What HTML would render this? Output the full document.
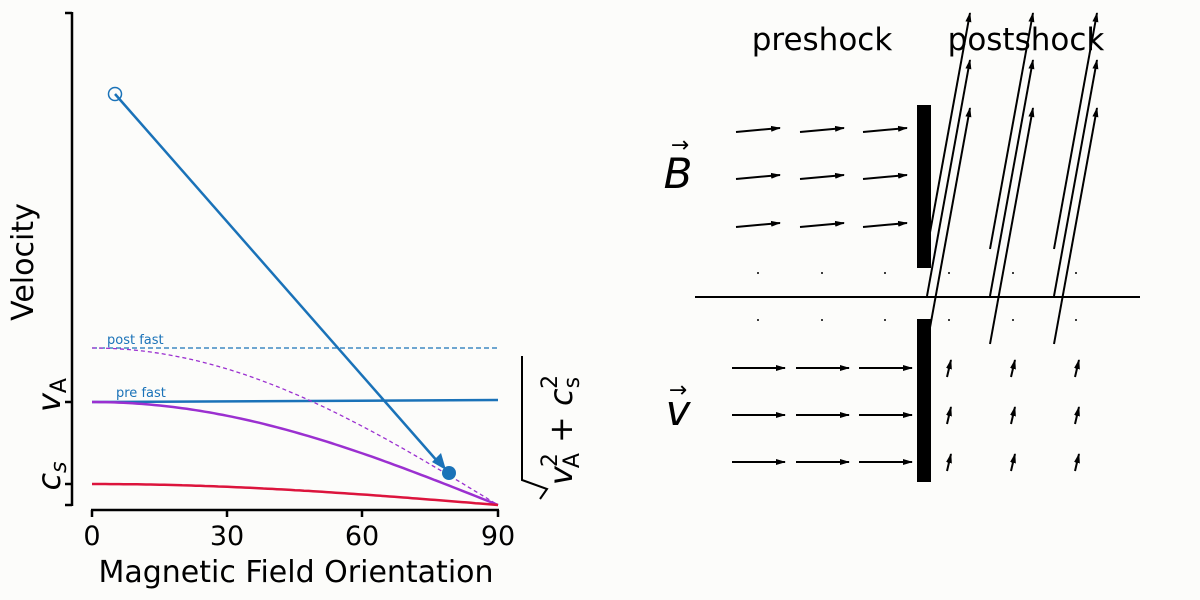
<!DOCTYPE html>
<html><head><meta charset="utf-8"><style>
html,body{margin:0;padding:0;background:#fcfcfa;}
svg{display:block;font-family:"DejaVu Sans","Liberation Sans",sans-serif;}
</style></head><body>
<svg width="1200" height="600" viewBox="0 0 1200 600" xmlns="http://www.w3.org/2000/svg">
<defs>
<marker id="ahs" markerWidth="10" markerHeight="8" refX="9" refY="4" orient="auto" markerUnits="userSpaceOnUse"><path d="M0,1 L10,4 L0,7 Z" fill="#000"/></marker>
</defs>
<rect width="1200" height="600" fill="#fcfcfa"/>
<g stroke="#000" stroke-width="2.5" fill="none">
<line x1="72" y1="12" x2="72" y2="506"/>
<line x1="65" y1="13" x2="72" y2="13"/>
<line x1="65" y1="402" x2="72" y2="402"/>
<line x1="65" y1="484" x2="72" y2="484"/>
<line x1="65" y1="505" x2="72" y2="505"/>
<line x1="91" y1="510" x2="499" y2="510"/>
<line x1="92" y1="510" x2="92" y2="517"/>
<line x1="227" y1="510" x2="227" y2="517"/>
<line x1="362" y1="510" x2="362" y2="517"/>
<line x1="498" y1="510" x2="498" y2="517"/>
</g>
<g font-size="27" text-anchor="middle" fill="#000">
<text x="92" y="545">0</text><text x="227" y="545">30</text><text x="362" y="545">60</text><text x="498" y="545">90</text>
<text x="296" y="582" font-size="30">Magnetic Field Orientation</text>
<text transform="translate(33,262) rotate(-90)" font-size="30">Velocity</text>
<text transform="translate(60,395) rotate(-90)" font-size="32" font-style="italic">v<tspan font-size="22" dy="6" font-style="normal">A</tspan></text>
<text transform="translate(60,476) rotate(-90)" font-size="32" font-style="italic">c<tspan font-size="22" dy="6">s</tspan></text>
</g>
<line x1="92" y1="348" x2="498" y2="348" stroke="#1a72b8" stroke-width="1.3" stroke-dasharray="5,3"/>
<line x1="92" y1="402" x2="498" y2="400" stroke="#1a72b8" stroke-width="2.5"/>
<path id="pd" fill="none" stroke="#9b30d0" stroke-width="1.3" stroke-dasharray="4,3" d=""/>
<path id="ps" fill="none" stroke="#9b30d0" stroke-width="2.5" d=""/>
<path id="rd" fill="none" stroke="#dc143c" stroke-width="1.2" stroke-dasharray="4,3" d=""/>
<path id="rs" fill="none" stroke="#dc143c" stroke-width="2.5" d=""/>
<text x="107" y="344" font-size="13" fill="#1a72b8">post fast</text>
<text x="116" y="397" font-size="13" fill="#1a72b8">pre fast</text>
<line x1="115" y1="94" x2="438" y2="462" stroke="#1a72b8" stroke-width="2.5"/>
<path d="M446,470 L432,462 L441,453 Z" fill="#1a72b8"/>
<circle cx="115" cy="94" r="6.5" fill="none" stroke="#1a72b8" stroke-width="1.5"/>
<circle cx="449" cy="473" r="7" fill="#1a72b8"/>
<path d="M522,356 L522,480 L547,489 L540,499" fill="none" stroke="#000" stroke-width="2"/>
<text transform="translate(572,430) rotate(-90)" font-size="32" text-anchor="middle" font-style="italic">v<tspan font-size="22" dy="7" dx="-2" font-style="normal">A</tspan><tspan font-size="22" dy="-22" dx="-14" font-style="normal">2</tspan><tspan dy="15" font-style="normal"> + </tspan>c<tspan font-size="22" dy="7" font-style="normal">s</tspan><tspan font-size="22" dy="-22" dx="-12" font-style="normal">2</tspan></text>
<text x="822" y="50" font-size="31" text-anchor="middle">preshock</text>
<text x="1026" y="50" font-size="31" text-anchor="middle">postshock</text>
<text x="678" y="188" font-size="42" text-anchor="middle" font-style="italic">B</text>
<text x="680" y="152" font-size="22" text-anchor="middle">→</text>
<text x="678" y="425" font-size="42" text-anchor="middle" font-style="italic">v</text>
<text x="678" y="397" font-size="22" text-anchor="middle">→</text>
<line x1="695" y1="297" x2="1140" y2="297" stroke="#000" stroke-width="2"/>
<g id="arrows" stroke="#000" stroke-width="2"></g>
<rect x="917" y="105" width="14" height="163" fill="#000"/>
<rect x="917" y="319" width="14" height="163" fill="#000"/>
<g id="dots" fill="#000"></g>
</svg>
<script>
function P(f,amp){let d="";for(let i=0;i<=90;i++){let x=92+i*406/90;let y=505-amp*f(i*Math.PI/180);d+=(i?"L":"M")+x.toFixed(1)+","+y.toFixed(1);}return d;}
document.getElementById("ps").setAttribute("d",P(t=>Math.cos(t),103));
document.getElementById("pd").setAttribute("d",P(t=>Math.cos(t),157));
document.getElementById("rs").setAttribute("d",P(t=>Math.cos(t),21));
document.getElementById("rd").setAttribute("d",P(t=>Math.cos(t),21));
const g=document.getElementById("arrows");let s="";
function A(x1,y1,x2,y2){s+=`<line x1="${x1}" y1="${y1}" x2="${x2}" y2="${y2}" marker-end="url(#ahs)"/>`;}
[132,179,227].forEach(y=>[736,800,863].forEach(x=>A(x,y,x+44,y-4)));
[368,415,462].forEach(y=>[732,796,859].forEach(x=>A(x,y,x+53,y)));
[927,990,1054].forEach(x=>[249,296,344].forEach(y=>A(x,y,x+43,y-236)));
[947,1011,1075].forEach(x=>[377,424,471].forEach(y=>A(x,y,x+4,y-17)));
g.innerHTML=s;
let d="";[273,320].forEach(y=>[758,822,885,949,1013,1076].forEach(x=>d+=`<circle cx="${x}" cy="${y}" r="1"/>`));
document.getElementById("dots").innerHTML=d;
</script>
</body></html>
